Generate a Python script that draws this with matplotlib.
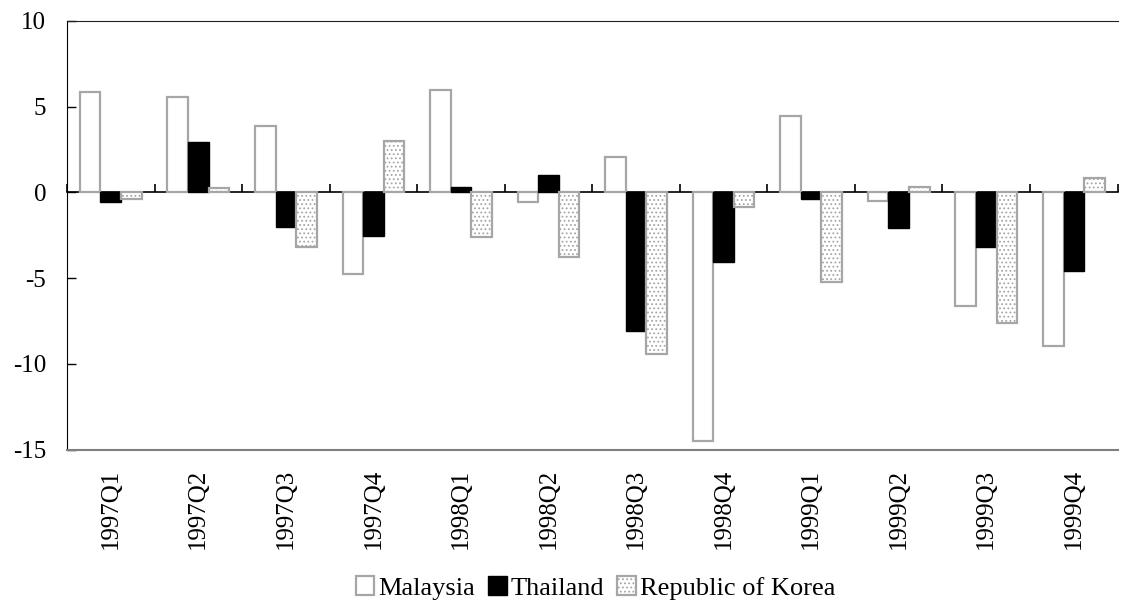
import numpy as np
import matplotlib
matplotlib.use("Agg")
import matplotlib.pyplot as plt

plt.rcParams["font.family"] = ["Liberation Serif", "DejaVu Serif"]
plt.rcParams["hatch.linewidth"] = 0.8

quarters = ["1997Q1", "1997Q2", "1997Q3", "1997Q4",
            "1998Q1", "1998Q2", "1998Q3", "1998Q4",
            "1999Q1", "1999Q2", "1999Q3", "1999Q4"]
malaysia = [5.83, 5.56, 3.88, -4.76, 5.97, -0.55, 2.08, -14.5, 4.47, -0.49, -6.61, -8.98]
thailand = [-0.58, 2.92, -2.0, -2.53, 0.31, 1.01, -8.09, -4.06, -0.37, -2.1, -3.17, -4.59]
korea = [-0.37, 0.25, -3.17, 2.99, -2.59, -3.75, -9.45, -0.84, -5.21, 0.31, -7.62, 0.82]

fig = plt.figure(figsize=(11.3, 6.15), dpi=100)
ax = fig.add_axes([0.0593, 0.269, 0.9297, 0.697])

x = np.arange(len(quarters))
w = 0.235
gray = "#a6a6a6"

ax.bar(x - w, malaysia, w, color="white", edgecolor=gray, linewidth=1.6,
       label="Malaysia", zorder=2)
ax.bar(x, thailand, w, color="black", edgecolor="black", linewidth=1.0,
       label="Thailand", zorder=2)
ax.bar(x + w, korea, w, color="white", edgecolor=gray, linewidth=1.6,
       hatch="....", label="Republic of Korea", zorder=2)

ax.set_xlim(-0.5, len(quarters) - 0.5)
ax.set_ylim(-15, 10)
ax.set_yticks([-15, -10, -5, 0, 5, 10])
ax.set_yticklabels(["-15", "-10", "-5", "0", "5", "10"])

ax.set_xticks(x)
ax.set_xticklabels(quarters, rotation=90)
ax.tick_params(axis="x", length=0, pad=14, labelsize=18)
ax.tick_params(axis="y", direction="in", length=6.5, width=1, pad=15, labelsize=18)

ax.spines["right"].set_visible(False)
ax.spines["top"].set_color("#222222")
ax.spines["left"].set_color("black")
ax.spines["bottom"].set_color("#7f7f7f")
ax.spines["bottom"].set_linewidth(1.5)

# zero line with category separators
zax = ax.secondary_xaxis(0, transform=ax.transData)
zax.set_xticks(np.arange(-0.5, len(quarters), 1.0))
zax.tick_params(axis="x", direction="in", length=6, width=1.2,
                labelbottom=False, labeltop=False)
zax.spines["bottom"].set_color("black")
zax.spines["bottom"].set_linewidth(1.2)

fig.legend(loc="center", bbox_to_anchor=(0.527, 0.044), ncol=3, frameon=False,
           fontsize=19, handlelength=0.7, handleheight=0.7, handletextpad=0.15,
           columnspacing=0.5)

fig.savefig("out.png", dpi=100)
